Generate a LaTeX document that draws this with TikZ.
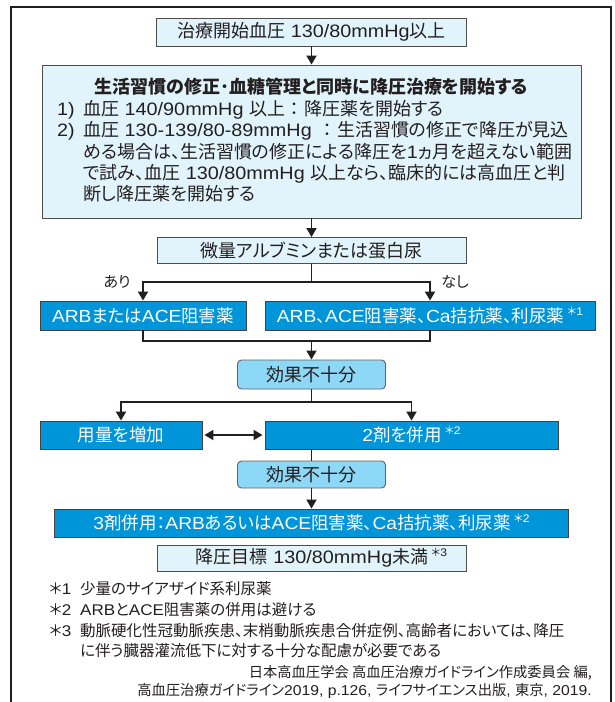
\documentclass[tikz,border=0pt]{standalone}
\usepackage{fontspec}
\setmainfont{Noto Sans CJK JP}[RawFeature=+palt]
\newfontfamily\latinfont{Liberation Sans}[FakeStretch=1.1]
\newcommand\lt[1]{{\latinfont #1}}
\newcommand\fcolon{\hspace{0.3em}：\hspace{0.3em}}
\newcommand\fnmark[1]{\,\raisebox{0.4em}{\fontsize{11}{11}\selectfont ＊\lt{#1}}}
\usetikzlibrary{arrows.meta}

\definecolor{ink}{HTML}{231F20}
\definecolor{paleblue}{HTML}{E1F3FB}
\definecolor{deepblue}{HTML}{0095D8}
\definecolor{skyblue}{HTML}{8DD7F7}

\tikzstyle{lightbox} = [rectangle, draw=ink!80, fill=paleblue, line width=0.9pt, text=ink, inner sep=0pt, font=\fontsize{18}{21}\selectfont]
\tikzstyle{darkbox} = [rectangle, draw=ink!85, fill=deepblue, line width=0.9pt, text=white, inner sep=0pt, font=\fontsize{17.5}{21}\selectfont]
\tikzstyle{checkbox} = [rectangle, rounded corners=4pt, draw=ink!70, fill=skyblue, line width=0.9pt, text=ink, inner sep=0pt, font=\fontsize{18}{21}\selectfont]
\tikzstyle{link} = [line width=1.8pt, draw=ink]
\tikzstyle{arrow} = [link, -{Triangle[length=9pt,width=10pt]}]
\tikzstyle{biarrow} = [link, {Triangle[length=9pt,width=10pt]}-{Triangle[length=9pt,width=10pt]}, shorten <=2pt, shorten >=2pt]
\tikzstyle{branchlabel} = [text=ink, inner sep=0pt, font=\fontsize{15}{18}\selectfont]
\tikzstyle{notetext} = [text=ink, inner sep=0pt, align=left, font=\fontsize{15.5}{20.8}\selectfont]
\tikzstyle{citetext} = [text=ink, inner sep=0pt, font=\fontsize{14.3}{18.5}\selectfont]

\begin{document}
\begin{tikzpicture}[x=1pt, y=-1pt]
\useasboundingbox (0,0) rectangle (614,702);
% outer frame, open at the bottom
\draw [line width=1.8pt, ink] (11,702) -- (11,7) -- (611,7) -- (611,702);

\node (start) [lightbox, minimum width=310pt, minimum height=28pt] at (311.5,32) {治療開始血圧\lt{ 130/80mmHg}以上};

\node (plan) [lightbox, minimum width=539pt, minimum height=153pt] at (311.5,141.5) {};
\node (planhead) [text=ink, inner sep=0pt, font=\fontsize{18}{21}\selectfont\bfseries] at (311.5,87) {生活習慣の修正･血糖管理と同時に降圧治療を開始する};
\node (planbody) [text=ink, inner sep=0pt, anchor=base west, font=\fontsize{18}{21}\selectfont] at (57,115) {%
\begin{tabular}[t]{@{}l@{}l@{}}
\makebox[26pt][l]{\lt{1)}} & 血圧\lt{ 140/90mmHg }以上\fcolon 降圧薬を開始する\\
\makebox[26pt][l]{\lt{2)}} & 血圧\lt{ 130-139/80-89mmHg }\fcolon 生活習慣の修正で降圧が見込\\
 & める場合は、生活習慣の修正による降圧を\lt{1}ヵ月を超えない範囲\\
 & で試み、血圧\lt{ 130/80mmHg }以上なら、臨床的には高血圧と判\\
 & 断し降圧薬を開始する
\end{tabular}};

\node (albu) [lightbox, minimum width=309pt, minimum height=26pt] at (311.5,250.5) {微量アルブミンまたは蛋白尿};
\node (arbA) [darkbox, minimum width=206pt, minimum height=29pt] at (143,315.5) {\lt{ARB}または\lt{ACE}阻害薬};
\node (arbB) [darkbox, minimum width=330pt, minimum height=29pt] at (430,315.5) {\lt{ARB}、\lt{ACE}阻害薬、\lt{Ca}拮抗薬、利尿薬\fnmark{1}};
\node (yes) [branchlabel] at (117,282) {あり};
\node (no) [branchlabel] at (455,282) {なし};

\node (chk1) [checkbox, minimum width=148pt, minimum height=29pt] at (311.5,374.5) {効果不十分};
\node (dose) [darkbox, minimum width=162pt, minimum height=28pt] at (121,435) {用量を増加};
\node (combo2) [darkbox, minimum width=293pt, minimum height=28pt] at (411.5,435) {\lt{2}剤を併用\fnmark{2}};
\node (chk2) [checkbox, minimum width=148pt, minimum height=27pt] at (311.5,474.5) {効果不十分};
\node (combo3) [darkbox, minimum width=514pt, minimum height=28pt] at (311.5,523) {\lt{3}剤併用：\lt{ARB}あるいは\lt{ACE}阻害薬、\lt{Ca}拮抗薬、利尿薬\fnmark{2}};
\node (goal) [lightbox, minimum width=309pt, minimum height=26pt] at (311.5,558) {\hspace*{20pt}降圧目標\lt{ 130/80mmHg}未満\fnmark{3}};

\coordinate (fork1) at (311.5,282);
\coordinate (merge1) at (311.5,341);
\coordinate (fork2) at (311.5,402);

\draw [arrow] (start.south) -- (plan.north);
\draw [arrow] (plan.south) -- (albu.north);
\draw [link] (albu.south) -- (fork1);
\draw [arrow] (fork1) -| (arbA.north);
\draw [arrow] (fork1) -| (arbB.north);
\draw [link] (arbA.south) |- (merge1);
\draw [link] (arbB.south) |- (merge1);
\draw [arrow] (merge1) -- (chk1.north);
\draw [link] (chk1.south) -- (fork2);
\draw [arrow] (fork2) -| (dose.north);
\draw [arrow] (fork2) -| (combo2.north);
\draw [biarrow] (dose.east) -- (combo2.west);
\draw [link] (chk2.north |- combo2.south) -- (chk2.north);
\draw [arrow] (chk2.south) -- (combo3.north);

% footnotes and source
\node (notes) [notetext, anchor=base west] at (49,594.5) {%
\begin{tabular}[t]{@{}l@{}l@{}}
\makebox[31pt][l]{＊\lt{1}} & 少量のサイアザイド系利尿薬\\
\makebox[31pt][l]{＊\lt{2}} & \lt{ARB}と\lt{ACE}阻害薬の併用は避ける\\
\makebox[31pt][l]{＊\lt{3}} & 動脈硬化性冠動脈疾患、末梢動脈疾患合併症例、高齢者においては、降圧\\
 & に伴う臓器灌流低下に対する十分な配慮が必要である
\end{tabular}};
\node (source) [citetext, anchor=base east] at (592,677) {%
\begin{tabular}[t]{@{}r@{}}
日本高血圧学会 高血圧治療ガイドライン作成委員会 編,\\
高血圧治療ガイドライン\lt{2019, p.126, }ライフサイエンス出版\lt{, }東京\lt{, 2019.}
\end{tabular}};
\end{tikzpicture}
\end{document}
